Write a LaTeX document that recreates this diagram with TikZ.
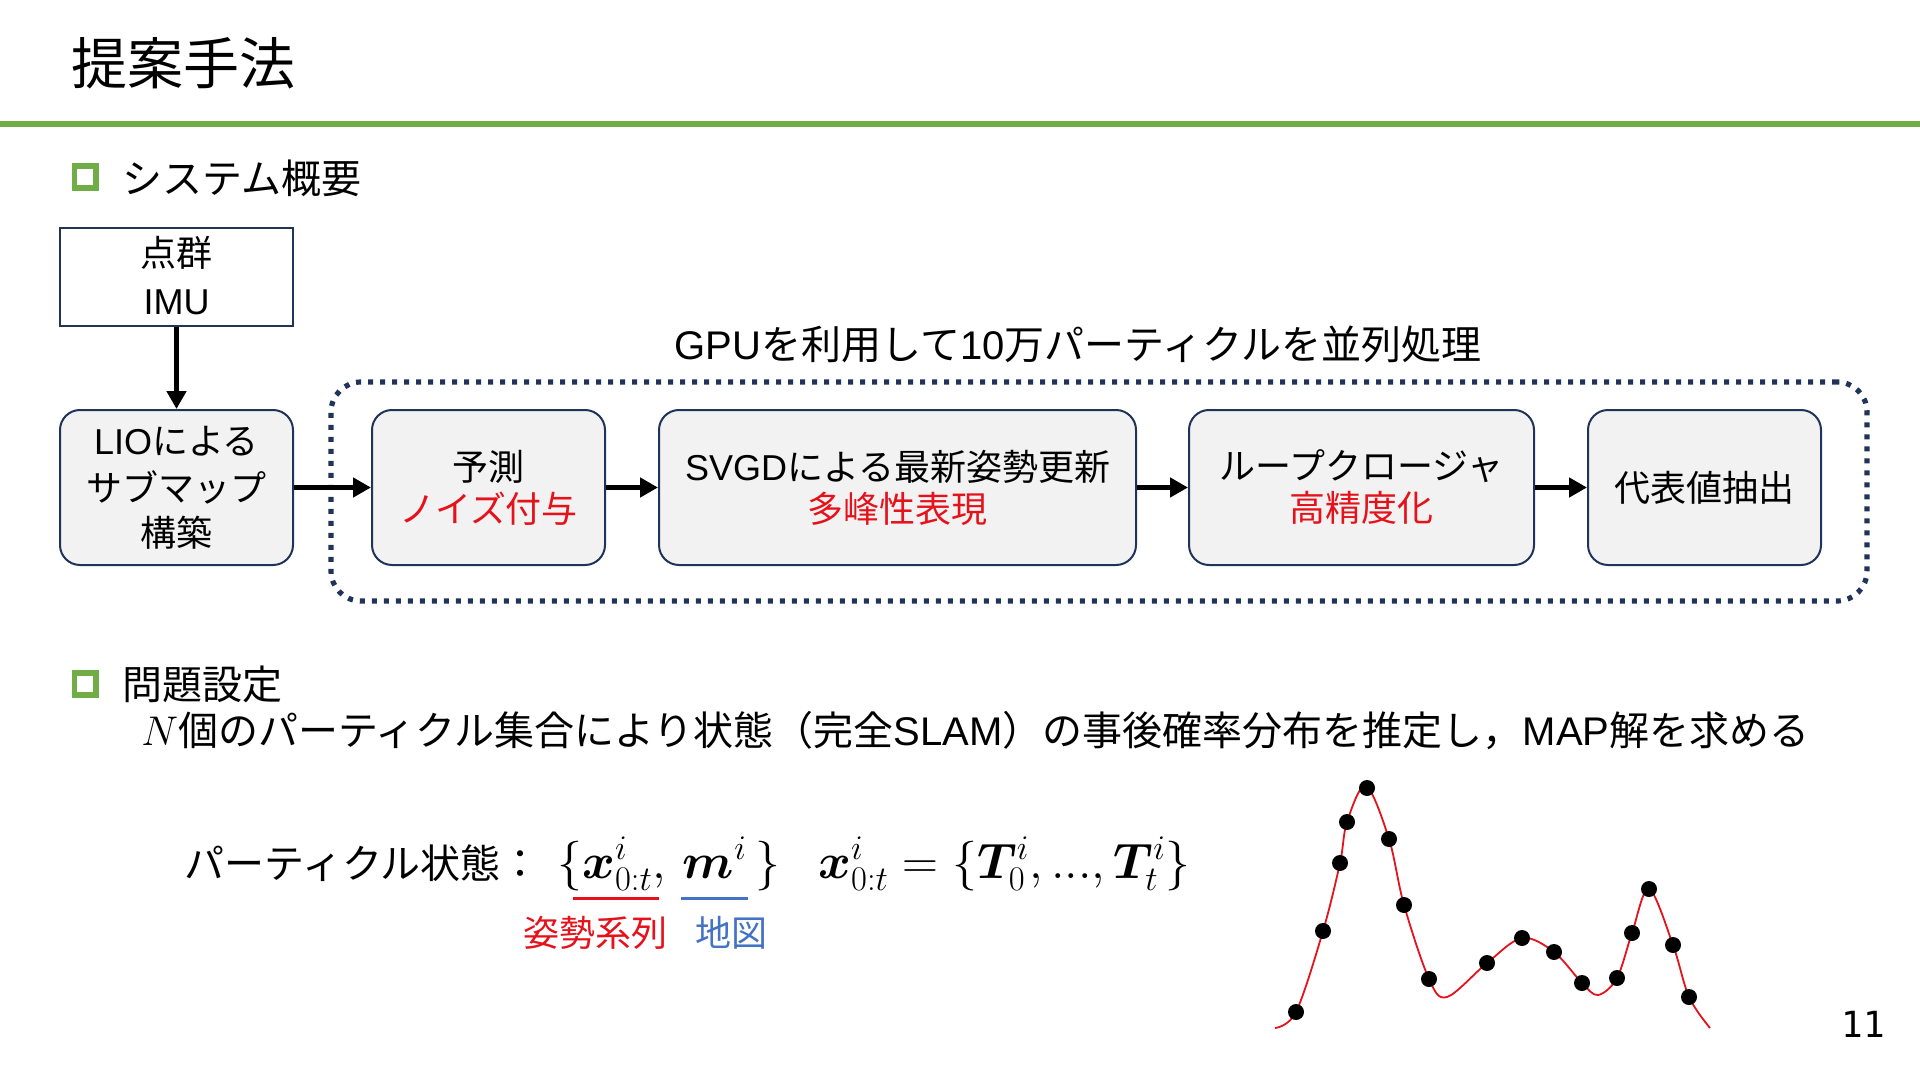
\documentclass[tikz,border=0pt]{standalone}
\usepackage[no-math]{fontspec}
\usepackage{bm}
\setmainfont{Liberation Sans}
\newfontfamily\jp{Noto Sans CJK JP}
\newfontfamily\pnum{DejaVu Sans Mono}
\usetikzlibrary{arrows.meta}
\definecolor{navy}{HTML}{1F3458}
\definecolor{lgreen}{HTML}{70AD47}
\definecolor{boxgray}{HTML}{F2F2F2}
\definecolor{tred}{HTML}{E5121B}
\definecolor{tblue}{HTML}{4472C4}
\tikzset{
  stepbox/.style={draw=navy, line width=1pt, fill=boxgray, rounded corners=10pt,
    minimum height=77.5pt, inner sep=0pt, align=center,
    font=\fontsize{18}{21}\selectfont},
  inbox/.style={draw=navy, line width=1pt, fill=white, inner sep=0pt, align=center,
    minimum width=116.5pt, minimum height=49pt, font=\fontsize{18}{24}\selectfont},
  gpubox/.style={draw=navy, line width=2.6pt, dash pattern=on 2.5pt off 3.5pt,
    rounded corners=15pt, minimum width=768pt, minimum height=109.5pt, inner sep=0pt},
  arr/.style={line width=2.7pt, -{Triangle[length=9pt,width=9.5pt]}},
  bullet/.style={draw=lgreen, line width=2.8pt, fill=white, minimum width=10.7pt,
    minimum height=11.2pt, inner sep=0pt},
  body/.style={inner sep=0pt, font=\fontsize{20}{24}\selectfont},
  dot/.style={circle, fill=black, minimum size=8pt, inner sep=0pt},
}
\newcommand\J[1]{{\jp #1}}
\begin{document}
\begin{tikzpicture}[x=0.5pt, y=-0.5pt]
\useasboundingbox (0,0) rectangle (1920,1080);
% title
\node[inner sep=0pt, anchor=west, font=\fontsize{28}{32}\selectfont] (title) at (71,63) {\J{提案手法}};
\draw[lgreen, line width=3pt] (0,124) -- (1920,124);
% section 1
\node[bullet] (b1) at (85,177) {};
\node[body, anchor=west] (s1) at (122,178) {\J{システム概要}};
% diagram
\node[inbox] (in) at (176.5,277) {\raisebox{1.5pt}{\J{点群}}\\\raisebox{1.5pt}{IMU}};
\node[stepbox, minimum width=116.5pt] (lio) at (176.5,487.5) {\raisebox{1pt}{LIO\J{による}}\\[1.5pt]\J{サブマップ}\\[1.5pt]\J{構築}};
\node[gpubox] (gpu) at (1099,491.5) {};
\node[body] (gpulabel) at (1078,344) {GPU\J{を利用して}10\J{万パーティクルを並列処理}};
\node[stepbox, minimum width=116.5pt] (pred) at (488.5,487.5) {\raisebox{1.5pt}{\J{予測}}\\\raisebox{1.5pt}{\textcolor{tred}{\J{ノイズ付与}}}};
\node[stepbox, minimum width=238.5pt] (svgd) at (897.5,487.5) {\raisebox{1.5pt}{SVGD\J{による最新姿勢更新}}\\\raisebox{1.5pt}{\textcolor{tred}{\J{多峰性表現}}}};
\node[stepbox, minimum width=172.5pt] (loop) at (1361.5,487.5) {\raisebox{1.5pt}{\J{ループクロージャ}}\\\raisebox{1.5pt}{\textcolor{tred}{\J{高精度化}}}};
\node[stepbox, minimum width=116.5pt] (rep) at (1704.5,487.5) {\J{代表値抽出}};
\draw[arr] (in.south) -- (lio.north);
\draw[arr] (lio.east) -- (pred.west);
\draw[arr] (pred.east) -- (svgd.west);
\draw[arr] (svgd.east) -- (loop.west);
\draw[arr] (loop.east) -- (rep.west);
% section 2
\node[bullet] (b2) at (85,684) {};
\node[body, anchor=west] (s2) at (122,684) {\J{問題設定}};
\node[body, anchor=west] (prob) at (141,731) {$N$\J{個のパーティクル集合により状態（完全}SLAM\J{）の事後確率分布を推定し，}MAP\J{解を求める}};
% particle state
\node[body, anchor=base west] (ps) at (184,878) {\J{パーティクル状態：}};
\node[inner sep=0pt, anchor=base west, font=\fontsize{24}{28}\selectfont] (m1) at (557,878) {$\{\bm{x}^i_{0:t},\,\bm{m}^i\,\}$};
\node[inner sep=0pt, anchor=base west, font=\fontsize{24}{28}\selectfont] (m2) at (818,878) {$\bm{x}^i_{0:t}=\{\bm{T}^i_0{,}\,{.}{.}{.}{,}\,\bm{T}^i_t\}$};
\draw[tred, line width=1.5pt] (573,898) -- (659,898);
\draw[tblue, line width=1.5pt] (681,898) -- (748,898);
\node[inner sep=0pt, font=\fontsize{18}{21}\selectfont, text=tred] (l1) at (595,933) {\J{姿勢系列}};
\node[inner sep=0pt, font=\fontsize{18}{21}\selectfont, text=tblue] (l2) at (731,933) {\J{地図}};
% distribution curve
\draw[tred, line width=0.9pt] plot[smooth, tension=0.55] coordinates {
(1275,1028) (1296,1012) (1323,931) (1340,863) (1347,822) (1366,786) (1389,839) (1404,905)
(1429,979) (1447,997) (1487,963) (1522,938) (1554,952) (1582,983) (1598,995) (1617,978)
(1632,933) (1649,889) (1673,945) (1689,997) (1710,1028)};
\foreach \p [count=\k] in {(1296,1012),(1323,931),(1340,863),(1347,822),(1367,788),(1389,839),(1404,905),(1429,979),(1487,963),(1522,938),(1554,952),(1582,983),(1617,978),(1632,933),(1649,889),(1673,945),(1689,997)}
  \node[dot] (d\k) at \p {};
% page number
\node[inner sep=0pt, font=\pnum\fontsize{18}{20}\selectfont] (pg) at (1863,1024) {11};
\end{tikzpicture}
\end{document}
